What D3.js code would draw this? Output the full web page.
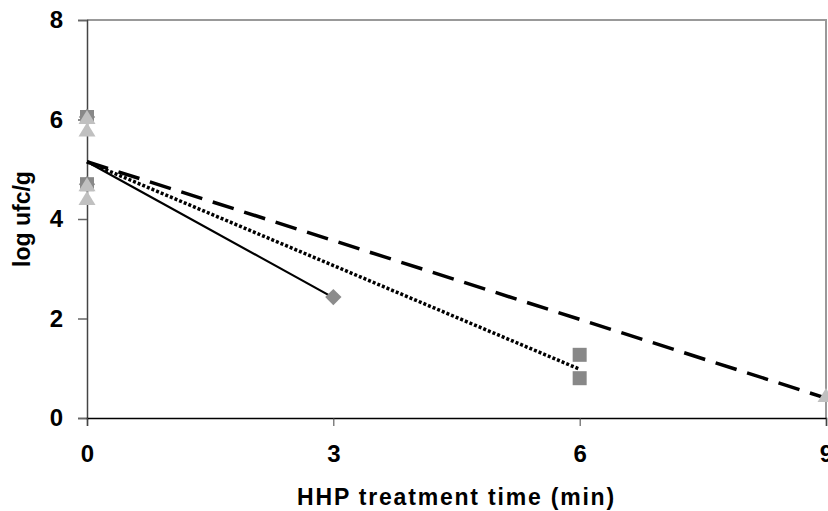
<!DOCTYPE html>
<html>
<head>
<meta charset="utf-8">
<script src="https://cdn.jsdelivr.net/npm/d3@7"></script>
<style>
  body { margin: 0; background: #fff; }
  text { font-family: "Liberation Sans", Arial, sans-serif; font-weight: bold; }
</style>
</head>
<body>
<div id="vis"></div>
<script>
let WIDTH = 828;
let HEIGHT = 511;
let MARG = {left: 87, right: 2, top: 20, bottom: 93};

// measured points (time in min, log ufc/g)
const diamondX = [0, 0, 3];
const diamondY = [6.05, 4.7, 2.43];
const squareX = [0, 0, 6, 6];
const squareY = [6.05, 4.7, 1.27, 0.8];
const triangleX = [0, 0, 0, 0, 9];
const triangleY = [6.05, 5.8, 4.7, 4.42, 0.46];

// fitted lines: start and end
const solidLine = [[0, 5.15], [3, 2.42]];
const dottedLine = [[0, 5.15], [6, 0.98]];
const dashedLine = [[0, 5.15], [9, 0.4]];

const xTicks = [0, 3, 6, 9];
const yTicks = [0, 2, 4, 6, 8];

let VIS_WIDTH = WIDTH - MARG.left - MARG.right;
let VIS_HEIGHT = HEIGHT - MARG.top - MARG.bottom;

const FRAME = d3.select("#vis")
  .append("svg")
    .attr("width", WIDTH)
    .attr("height", HEIGHT);

const X = d3.scaleLinear().domain([0, 9]).range([MARG.left, MARG.left + VIS_WIDTH]);
const Y = d3.scaleLinear().domain([0, 8]).range([MARG.top + VIS_HEIGHT, MARG.top]);

// top and right border of plot area
FRAME.append("path")
  .attr("d", "M" + X(0) + "," + Y(8) + "H" + X(9) + "V" + Y(0))
  .attr("fill", "none")
  .attr("stroke", "#999")
  .attr("stroke-width", 2);

// axes
const yAxis = FRAME.append("g")
  .attr("transform", "translate(" + X(0) + ",0)")
  .call(d3.axisLeft(Y).tickValues(yTicks).tickSize(9).tickPadding(15).tickFormat(d3.format("d")));
yAxis.attr("font-size", 24);
yAxis.select(".domain").attr("stroke", "#444").attr("stroke-width", 1.5);
yAxis.selectAll(".tick line").attr("stroke", "#666").attr("stroke-width", 1.5);
yAxis.selectAll("text").attr("fill", "#000");

const xAxis = FRAME.append("g")
  .attr("transform", "translate(0," + Y(0) + ")")
  .call(d3.axisBottom(X).tickValues(xTicks).tickSize(8).tickPadding(19).tickFormat(d3.format("d")));
xAxis.attr("font-size", 24);
xAxis.select(".domain").attr("stroke", "#000").attr("stroke-width", 1.5);
xAxis.selectAll(".tick line").attr("stroke", "#444").attr("stroke-width", 1);
xAxis.selectAll("text").attr("fill", "#000");

// lines
const line = d3.line().x(d => X(d[0])).y(d => Y(d[1]));
FRAME.append("path").datum(solidLine).attr("d", line)
  .attr("fill", "none").attr("stroke", "#000").attr("stroke-width", 2.2);
FRAME.append("path").datum(dottedLine).attr("d", line)
  .attr("fill", "none").attr("stroke", "#000").attr("stroke-width", 3.5)
  .attr("stroke-dasharray", "3,2");
FRAME.append("path").datum(dashedLine).attr("d", line)
  .attr("fill", "none").attr("stroke", "#000").attr("stroke-width", 3.5)
  .attr("stroke-dasharray", "22,11");

// markers
FRAME.selectAll(".diamond")
  .data(diamondX.map((x, i) => [x, diamondY[i]]))
  .enter().append("path")
    .attr("d", d3.symbol().type(d3.symbolDiamond2).size(170))
    .attr("transform", d => "translate(" + X(d[0]) + "," + Y(d[1]) + ")")
    .attr("fill", "#8c8c8c");

FRAME.selectAll(".square")
  .data(squareX.map((x, i) => [x, squareY[i]]))
  .enter().append("rect")
    .attr("x", d => X(d[0]) - 7)
    .attr("y", d => Y(d[1]) - 7)
    .attr("width", 14)
    .attr("height", 14)
    .attr("fill", "#888");

FRAME.selectAll(".triangle")
  .data(triangleX.map((x, i) => [x, triangleY[i]]))
  .enter().append("path")
    .attr("d", "M0,-7L8.5,7L-8.5,7Z")
    .attr("transform", d => "translate(" + X(d[0]) + "," + Y(d[1]) + ")")
    .attr("fill", "#c0c0c0");

// axis titles
FRAME.append("text")
  .attr("x", X(4.5))
  .attr("y", 505)
  .attr("text-anchor", "middle")
  .attr("font-size", 23)
  .attr("letter-spacing", 1.8)
  .text("HHP treatment time (min)");

FRAME.append("text")
  .attr("transform", "translate(30," + Y(4) + ") rotate(-90)")
  .attr("text-anchor", "middle")
  .attr("font-size", 23)
  .text("log ufc/g");
</script>
</body>
</html>
